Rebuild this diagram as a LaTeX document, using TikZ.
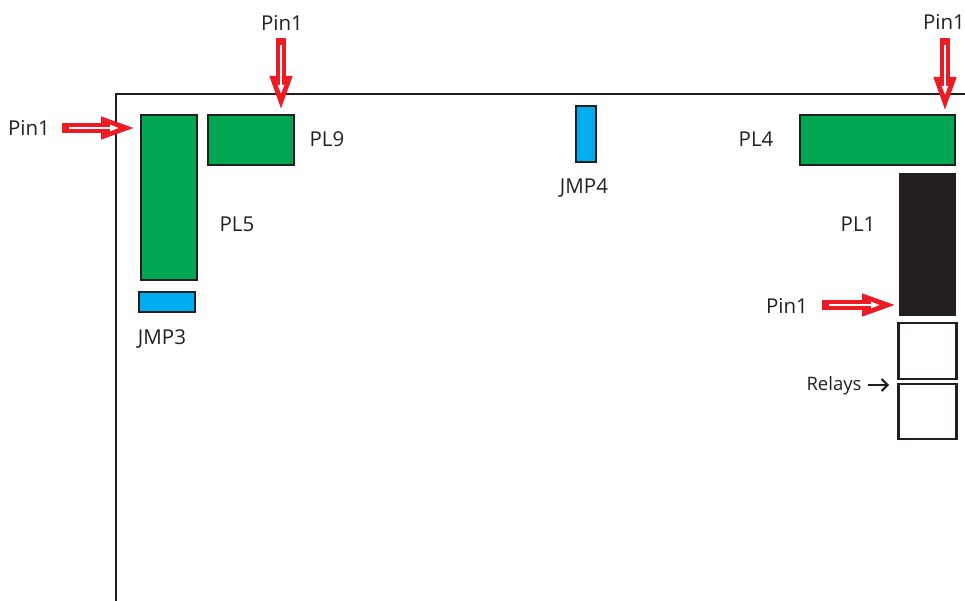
\documentclass[tikz,border=0pt]{standalone}
\usepackage{fontspec}
\setmainfont{Open Sans}
\usetikzlibrary{arrows.meta}

\definecolor{plgreen}{HTML}{00A651}
\definecolor{jmpblue}{HTML}{00AEEF}
\definecolor{pinred}{HTML}{ED1C24}
\definecolor{inkblack}{HTML}{231F20}

\tikzset{
  part/.style={draw=inkblack, line width=2.2pt, minimum width=#1, inner sep=0pt, outer sep=0pt},
  lbl/.style={text=inkblack, font=\fontsize{20.5}{23}\selectfont, inner sep=0pt},
  pinarrow/.style={
    preaction={draw=pinred, line width=10pt, shorten <=0pt, shorten >=0pt,
      -{Triangle[length=36pt,width=20pt]}},
    draw=white, line width=2pt, shorten <=7pt, shorten >=18pt,
    -{Triangle[length=9pt,width=6pt]}},
}

\begin{document}
\begin{tikzpicture}[x=1pt, y=-1pt]
  \useasboundingbox (0,0) rectangle (965,601);

  % Board outline
  \coordinate (bl) at (116,601);
  \coordinate (tl) at (116,94);
  \coordinate (tr) at (965,94);
  \draw[draw=inkblack, line width=2.2pt] (bl) -- (tl) -- (tr);

  % Connectors
  \node[part=56pt, minimum height=165pt, fill=plgreen] (pl5) at (169,197.5) {};
  \node[part=86pt, minimum height=50pt,  fill=plgreen] (pl9) at (251,140) {};
  \node[part=155pt, minimum height=50pt, fill=plgreen] (pl4) at (877.5,140) {};
  \node[part=57pt, minimum height=143pt, fill=inkblack, draw=none] (pl1) at (927.5,244.5) {};

  % Jumpers
  \node[part=56pt, minimum height=20pt, fill=jmpblue] (jmp3) at (167,302) {};
  \node[part=20pt, minimum height=56pt, fill=jmpblue] (jmp4) at (586,134) {};

  % Relays
  \node[part=58pt, minimum height=56pt] (rly1) at (927.5,351) {};
  \node[part=58pt, minimum height=55pt] (rly2) at (927.5,411.5) {};

  % Labels
  \node[lbl] (lpl9) at (327,139) {PL9};
  \node[lbl] (lpl5) at (237,224) {PL5};
  \node[lbl] (lpl4) at (756,139) {PL4};
  \node[lbl] (lpl1) at (858,224) {PL1};
  \node[lbl] (ljmp4) at (584,188) {JMP4};
  \node[lbl] (ljmp3) at (162,339) {JMP3};

  \node[lbl] (pina) at (29,128) {Pin1};
  \node[lbl] (pinb) at (282,23) {Pin1};
  \node[lbl] (pinc) at (944,22) {Pin1};
  \node[lbl] (pind) at (787,306) {Pin1};
  \node[lbl, font=\fontsize{18.5}{21}\selectfont] (lrly) at (834,386) {Relays};

  % Pin markers
  \coordinate (a0) at (62,128);   \coordinate (a1) at (137,128);
  \coordinate (b0) at (281,38);   \coordinate (b1) at (281,112);
  \coordinate (c0) at (945,38);   \coordinate (c1) at (945,113);
  \coordinate (d0) at (822,305);  \coordinate (d1) at (898,305);
  \draw[pinarrow] (a0) -- (a1);
  \draw[pinarrow] (b0) -- (b1);
  \draw[pinarrow] (c0) -- (c1);
  \draw[pinarrow] (d0) -- (d1);

  \coordinate (r0) at (868,385);  \coordinate (r1) at (889,385);
  \draw[draw=inkblack, line width=2pt, -{Straight Barb[length=6pt,width=12pt]}] (r0) -- (r1);
\end{tikzpicture}
\end{document}
